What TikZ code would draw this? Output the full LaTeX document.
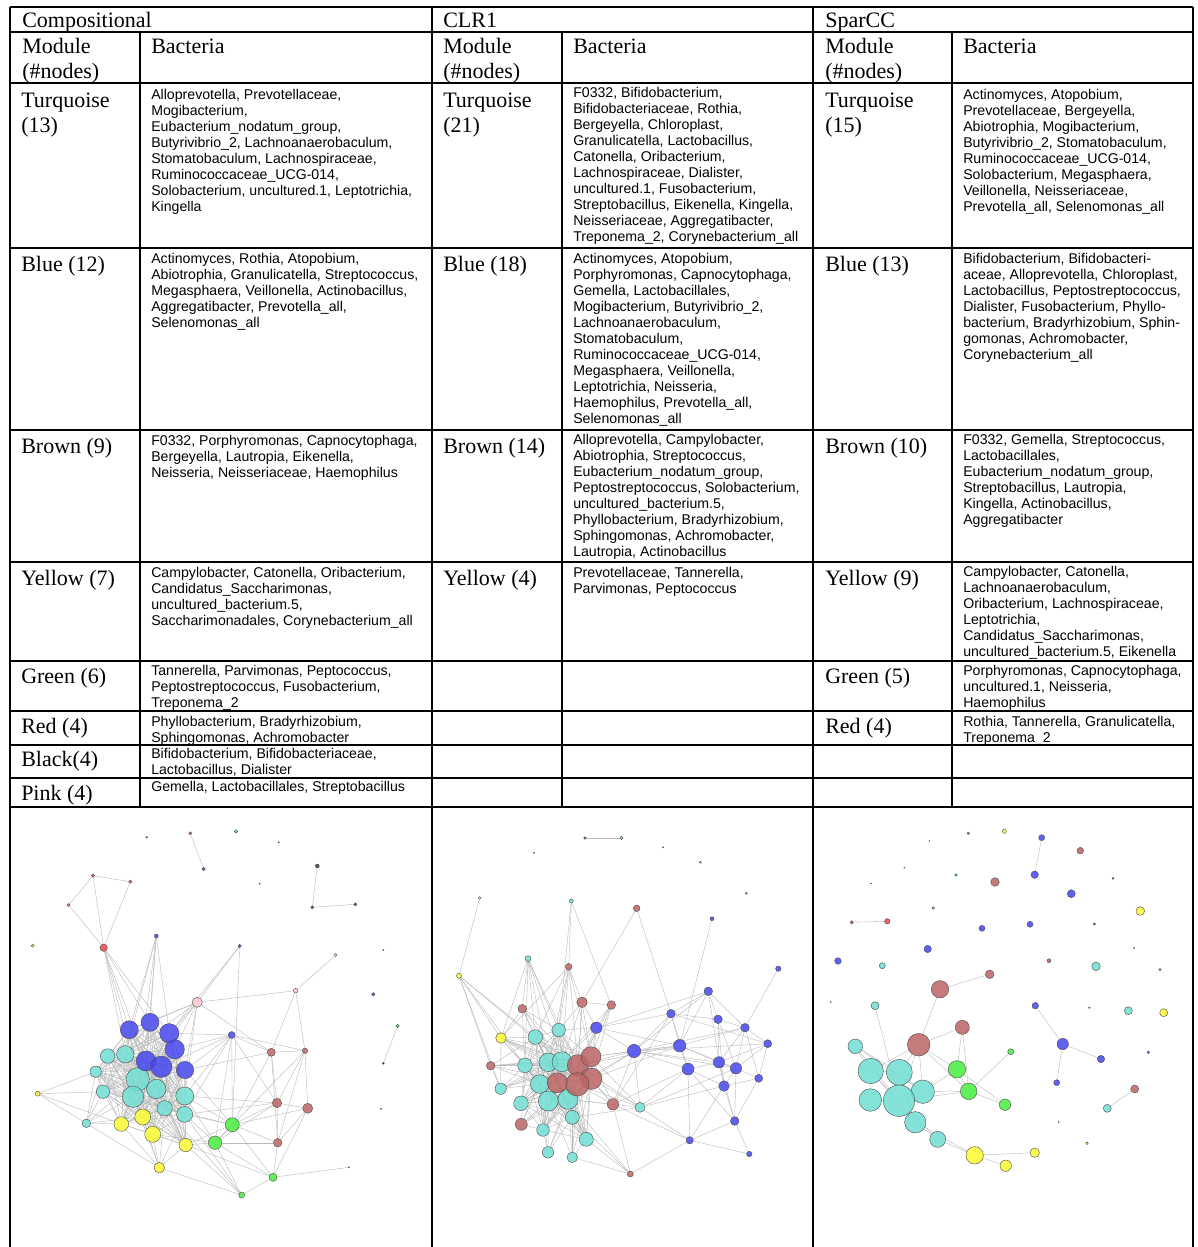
\documentclass[tikz,border=0pt]{standalone}
\usepackage{fontspec}
\setmainfont{Liberation Serif}
\setsansfont{Liberation Sans}
\pgfdeclarelayer{background}
\pgfsetlayers{background,main}
\definecolor{trq}{RGB}{112,222,210}
\definecolor{blu}{RGB}{70,70,238}
\definecolor{brn}{RGB}{188,100,100}
\definecolor{yel}{RGB}{250,250,50}
\definecolor{grn}{RGB}{70,238,60}
\definecolor{red}{RGB}{238,70,70}
\definecolor{pnk}{RGB}{255,200,205}
\definecolor{blk}{RGB}{60,60,60}
\definecolor{gry}{RGB}{110,110,110}
\tikzset{
 vtx/.style={circle,inner sep=0pt,outer sep=0pt,draw=black!70,line width=0.3pt,fill=#1,fill opacity=0.85},
 lnk/.style={draw=black!27,line width=0.3pt},
 gridline/.style={draw=black,line width=0.8pt},
 hd/.style={anchor=base west,inner sep=0pt,font=\rmfamily\fontsize{16.5}{18.8}\selectfont},
 bac/.style={anchor=base west,inner sep=0pt,font=\sffamily\fontsize{10.6}{12}\selectfont},
}
\newcommand\vx[5]{\node[vtx=#4,minimum size=#5*1.5pt] (#1) at (#2,#3) {};}
\newcommand\tl[1]{\begin{tabular}[t]{@{}l@{}}#1\end{tabular}}
\begin{document}
\begin{tikzpicture}[x=0.75pt,y=-0.75pt]
\useasboundingbox (0,0) rectangle (1197,1247);
% ---------------- table grid
\foreach \yy in {7,32,83,248,430,562,661,711,745,778,807}
  \draw[gridline] (10,\yy) -- (1193,\yy);
\foreach \xx in {10,432,813,1193}
  \draw[gridline] (\xx,7) -- (\xx,1247);
\foreach \xx in {140,562,952}
  \draw[gridline] (\xx,32) -- (\xx,807);
% ---------------- headers
\node[hd] (h1) at (22,27) {Compositional};
\node[hd] (h2) at (443,27) {CLR1};
\node[hd] (h3) at (825,27) {SparCC};
\node[hd] (m1) at (22,53) {\tl{Module\\(\#nodes)}};
\node[hd] (m2) at (443,53) {\tl{Module\\(\#nodes)}};
\node[hd] (m3) at (825,53) {\tl{Module\\(\#nodes)}};
\node[hd] (k1) at (151,53) {Bacteria};
\node[hd] (k2) at (573,53) {Bacteria};
\node[hd] (k3) at (963,53) {Bacteria};
% ---------------- Compositional
\node[hd] (c1m) at (21,107) {\tl{Turquoise\\(13)}};
\node[bac] (c1b) at (151,99) {\tl{Alloprevotella, Prevotellaceae,\\Mogibacterium,\\Eubacterium\_nodatum\_group,\\Butyrivibrio\_2, Lachnoanaerobaculum,\\Stomatobaculum, Lachnospiraceae,\\Ruminococcaceae\_UCG-014,\\Solobacterium, uncultured.1, Leptotrichia,\\Kingella}};
\node[hd] (c2m) at (21,271) {Blue (12)};
\node[bac] (c2b) at (151,263) {\tl{Actinomyces, Rothia, Atopobium,\\Abiotrophia, Granulicatella, Streptococcus,\\Megasphaera, Veillonella, Actinobacillus,\\Aggregatibacter, Prevotella\_all,\\Selenomonas\_all}};
\node[hd] (c3m) at (21,453) {Brown (9)};
\node[bac] (c3b) at (151,445) {\tl{F0332, Porphyromonas, Capnocytophaga,\\Bergeyella, Lautropia, Eikenella,\\Neisseria, Neisseriaceae, Haemophilus}};
\node[hd] (c4m) at (21,585) {Yellow (7)};
\node[bac] (c4b) at (151,577) {\tl{Campylobacter, Catonella, Oribacterium,\\Candidatus\_Saccharimonas,\\uncultured\_bacterium.5,\\Saccharimonadales, Corynebacterium\_all}};
\node[hd] (c5m) at (21,683) {Green (6)};
\node[bac] (c5b) at (151,675) {\tl{Tannerella, Parvimonas, Peptococcus,\\Peptostreptococcus, Fusobacterium,\\Treponema\_2}};
\node[hd] (c6m) at (21,733) {Red (4)};
\node[bac] (c6b) at (151,726) {\tl{Phyllobacterium, Bradyrhizobium,\\Sphingomonas, Achromobacter}};
\node[hd] (c7m) at (21,766) {Black(4)};
\node[bac] (c7b) at (151,758) {\tl{Bifidobacterium, Bifidobacteriaceae,\\Lactobacillus, Dialister}};
\node[hd] (c8m) at (21,800) {Pink (4)};
\node[bac] (c8b) at (151,791) {Gemella, Lactobacillales, Streptobacillus};
% ---------------- CLR1
\node[hd] (r1m) at (443,107) {\tl{Turquoise\\(21)}};
\node[bac] (r1b) at (573,97) {\tl{F0332, Bifidobacterium,\\Bifidobacteriaceae, Rothia,\\Bergeyella, Chloroplast,\\Granulicatella, Lactobacillus,\\Catonella, Oribacterium,\\Lachnospiraceae, Dialister,\\uncultured.1, Fusobacterium,\\Streptobacillus, Eikenella, Kingella,\\Neisseriaceae, Aggregatibacter,\\Treponema\_2, Corynebacterium\_all}};
\node[hd] (r2m) at (443,271) {Blue (18)};
\node[bac] (r2b) at (573,263) {\tl{Actinomyces, Atopobium,\\Porphyromonas, Capnocytophaga,\\Gemella, Lactobacillales,\\Mogibacterium, Butyrivibrio\_2,\\Lachnoanaerobaculum,\\Stomatobaculum,\\Ruminococcaceae\_UCG-014,\\Megasphaera, Veillonella,\\Leptotrichia, Neisseria,\\Haemophilus, Prevotella\_all,\\Selenomonas\_all}};
\node[hd] (r3m) at (443,453) {Brown (14)};
\node[bac] (r3b) at (573,444) {\tl{Alloprevotella, Campylobacter,\\Abiotrophia, Streptococcus,\\Eubacterium\_nodatum\_group,\\Peptostreptococcus, Solobacterium,\\uncultured\_bacterium.5,\\Phyllobacterium, Bradyrhizobium,\\Sphingomonas, Achromobacter,\\Lautropia, Actinobacillus}};
\node[hd] (r4m) at (443,585) {Yellow (4)};
\node[bac] (r4b) at (573,577) {\tl{Prevotellaceae, Tannerella,\\Parvimonas, Peptococcus}};
% ---------------- SparCC
\node[hd] (s1m) at (825,107) {\tl{Turquoise\\(15)}};
\node[bac] (s1b) at (963,99) {\tl{Actinomyces, Atopobium,\\Prevotellaceae, Bergeyella,\\Abiotrophia, Mogibacterium,\\Butyrivibrio\_2, Stomatobaculum,\\Ruminococcaceae\_UCG-014,\\Solobacterium, Megasphaera,\\Veillonella, Neisseriaceae,\\Prevotella\_all, Selenomonas\_all}};
\node[hd] (s2m) at (825,271) {Blue (13)};
\node[bac] (s2b) at (963,263) {\tl{Bifidobacterium, Bifidobacteri-\\aceae, Alloprevotella, Chloroplast,\\Lactobacillus, Peptostreptococcus,\\Dialister, Fusobacterium, Phyllo-\\bacterium, Bradyrhizobium, Sphin-\\gomonas, Achromobacter,\\Corynebacterium\_all}};
\node[hd] (s3m) at (825,453) {Brown (10)};
\node[bac] (s3b) at (963,444) {\tl{F0332, Gemella, Streptococcus,\\Lactobacillales,\\Eubacterium\_nodatum\_group,\\Streptobacillus, Lautropia,\\Kingella, Actinobacillus,\\Aggregatibacter}};
\node[hd] (s4m) at (825,585) {Yellow (9)};
\node[bac] (s4b) at (963,576) {\tl{Campylobacter, Catonella,\\Lachnoanaerobaculum,\\Oribacterium, Lachnospiraceae,\\Leptotrichia,\\Candidatus\_Saccharimonas,\\uncultured\_bacterium.5, Eikenella}};
\node[hd] (s5m) at (825,683) {Green (5)};
\node[bac] (s5b) at (963,675) {\tl{Porphyromonas, Capnocytophaga,\\uncultured.1, Neisseria,\\Haemophilus}};
\node[hd] (s6m) at (825,733) {Red (4)};
\node[bac] (s6b) at (963,726) {\tl{Rothia, Tannerella, Granulicatella,\\Treponema\_2}};
% ================= Network 1: Compositional
\vx{a1}{146.7}{837.3}{gry}{0.9}
\vx{a2}{190.3}{833.3}{brn}{1.5}
\vx{a3}{203.7}{869}{blu}{1.7}
\vx{a4}{236}{831.3}{trq}{1.7}
\vx{a5}{278.7}{842.3}{gry}{0.7}
\vx{a6}{317.3}{866}{blk}{2}
\vx{a7}{259.7}{883.7}{gry}{0.6}
\vx{a8}{312.3}{907.3}{blk}{1.5}
\vx{a9}{355.3}{904.3}{blk}{1.5}
\vx{a10}{93}{875.7}{red}{1.7}
\vx{a11}{130.3}{881.7}{red}{1.7}
\vx{a12}{68.7}{905}{red}{1.5}
\vx{a13}{103.7}{947.7}{red}{3.7}
\vx{a14}{32.7}{945.7}{yel}{1.5}
\vx{a15}{156.3}{936}{blu}{2}
\vx{a16}{239.7}{946}{blu}{1.7}
\vx{a17}{335.7}{955}{pnk}{1.5}
\vx{a18}{383.3}{950}{gry}{0.6}
\vx{a19}{295.7}{990.7}{pnk}{2.3}
\vx{a20}{373.3}{994.3}{blu}{1.8}
\vx{a21}{397.7}{1026}{grn}{1.7}
\vx{a22}{383.3}{1063.3}{blk}{1}
\vx{a23}{197.3}{1002.3}{pnk}{5}
\vx{a24}{231.7}{1035}{blu}{3.5}
\vx{a25}{349}{1167.3}{gry}{0.6}
\vx{a26}{381}{1109}{gry}{0.6}
\vx{a41}{107.7}{1056}{trq}{7.3}
\vx{a42}{125.3}{1054.3}{trq}{8.7}
\vx{a43}{95.7}{1071.7}{trq}{5.7}
\vx{a45}{103}{1091.7}{trq}{6.7}
\vx{a31}{129.3}{1029.7}{blu}{9}
\vx{a32}{150}{1022.3}{blu}{9}
\vx{a33}{169.3}{1033.3}{blu}{9.7}
\vx{a34}{174.7}{1049.3}{blu}{9.7}
\vx{a44}{137.7}{1079.3}{trq}{11.7}
\vx{a35}{146}{1061}{blu}{10}
\vx{a36}{161.3}{1066.7}{blu}{10.7}
\vx{a37}{185}{1070}{blu}{8.7}
\vx{a46}{133}{1096.7}{trq}{10.7}
\vx{a47}{156.3}{1089}{trq}{9.7}
\vx{a48}{184.7}{1096}{trq}{9}
\vx{a49}{164.7}{1108.3}{trq}{7.7}
\vx{a50}{184.7}{1114.3}{trq}{8}
\vx{a51}{86.3}{1123.3}{trq}{4.3}
\vx{a61}{37.7}{1093.7}{yel}{2.5}
\vx{a62}{121.3}{1124}{yel}{7.3}
\vx{a63}{142.7}{1117}{yel}{8}
\vx{a64}{152.7}{1134.3}{yel}{8}
\vx{a65}{185.7}{1145}{yel}{6.7}
\vx{a66}{159.3}{1167.7}{yel}{5.3}
\vx{a71}{232.3}{1124.7}{grn}{7}
\vx{a72}{215}{1142.7}{grn}{6.7}
\vx{a73}{273}{1177.3}{grn}{4}
\vx{a74}{241.7}{1195}{grn}{3}
\vx{a81}{271.3}{1052.3}{brn}{4}
\vx{a82}{305}{1050.7}{brn}{2.7}
\vx{a83}{277}{1103}{brn}{4.7}
\vx{a84}{307.7}{1108.3}{brn}{5}
\vx{a85}{277.7}{1142.7}{brn}{4.3}
% ================= Network 2: CLR1
\vx{b1}{585}{838}{gry}{1.3}
\vx{b2}{621.3}{838}{trq}{1.7}
\vx{b3}{534}{852.7}{gry}{0.6}
\vx{b4}{663}{847.3}{gry}{0.6}
\vx{b5}{700.3}{862.3}{yel}{1}
\vx{b6}{746.3}{893.3}{trq}{1}
\vx{b7}{479.7}{898}{yel}{1.5}
\vx{b8}{571.3}{901}{trq}{2}
\vx{b9}{636.7}{908.3}{brn}{3.3}
\vx{b10}{712}{918.7}{blu}{2}
\vx{b11}{459}{975.7}{yel}{2.5}
\vx{b12}{528}{958.7}{trq}{3}
\vx{b13}{568.7}{966.7}{brn}{3.3}
\vx{b14}{778.3}{968.7}{blu}{2.7}
\vx{b15}{582}{1002.3}{brn}{5.3}
\vx{b16}{611.3}{1005}{brn}{4.3}
\vx{b17}{522.3}{1008.7}{brn}{4.3}
\vx{b21}{708.3}{991.3}{blu}{4.3}
\vx{b22}{671}{1013.7}{blu}{4.3}
\vx{b23}{718}{1019.3}{blu}{4.3}
\vx{b24}{745}{1027.7}{blu}{4.3}
\vx{b25}{767.7}{1043.7}{blu}{4}
\vx{b26}{596.3}{1027.7}{blu}{5.7}
\vx{b27}{634}{1051}{blu}{6.7}
\vx{b28}{679.7}{1045.7}{blu}{6.3}
\vx{b29}{688}{1069}{blu}{6}
\vx{b30}{719}{1062.3}{blu}{5.7}
\vx{b31}{736}{1068.3}{blu}{5.7}
\vx{b32}{758.7}{1078.3}{blu}{4}
\vx{b33}{724}{1086}{blu}{5.3}
\vx{b34}{734.7}{1121}{blu}{4.3}
\vx{b35}{689.7}{1140.3}{blu}{3.7}
\vx{b36}{749.3}{1154}{blu}{2.7}
\vx{b41}{558.7}{1030}{trq}{6.7}
\vx{b42}{535.3}{1037}{trq}{7.3}
\vx{b43}{501}{1038}{yel}{5.3}
\vx{b44}{490.7}{1065.7}{brn}{4.3}
\vx{b45}{525}{1065.3}{trq}{7.3}
\vx{b46}{548.3}{1062.3}{trq}{9.3}
\vx{b47}{562}{1061.7}{trq}{10}
\vx{b48}{539.7}{1084}{trq}{9.3}
\vx{b49}{500.7}{1088.7}{trq}{5.7}
\vx{b50}{521}{1103.3}{trq}{7.3}
\vx{b51}{548.3}{1101}{trq}{10}
\vx{b52}{568}{1099.3}{trq}{10}
\vx{b53}{613}{1104.3}{brn}{5.7}
\vx{b54}{640}{1107.3}{trq}{5}
\vx{b55}{521.3}{1124.3}{brn}{6}
\vx{b56}{572.3}{1117.3}{trq}{7}
\vx{b57}{543}{1130}{trq}{6.3}
\vx{b58}{586.3}{1139.3}{trq}{7}
\vx{b59}{548}{1152.3}{trq}{5.7}
\vx{b60}{572.3}{1157.3}{trq}{5.3}
\vx{b61}{630.3}{1174}{brn}{3}
\vx{b62}{578}{1065.3}{brn}{10.7}
\vx{b63}{591}{1056.7}{brn}{10}
\vx{b64}{591.3}{1078.7}{brn}{10.7}
\vx{b65}{577.3}{1084.3}{brn}{11.7}
\vx{b66}{557.3}{1082.7}{brn}{10}
% ================= Network 3: SparCC
\vx{s1}{968.3}{833.3}{brn}{1.3}
\vx{s2}{1004.3}{831.3}{yel}{2}
\vx{s3}{1041.7}{837.7}{blu}{3}
\vx{s4}{929.3}{841}{gry}{0.5}
\vx{s5}{1080.3}{850.7}{brn}{3.3}
\vx{s6}{1034.7}{874.7}{blu}{3.7}
\vx{s7}{904.3}{867.7}{gry}{0.5}
\vx{s8}{956}{875}{grn}{1.3}
\vx{s9}{995}{882}{brn}{4.3}
\vx{s10}{1113}{878.3}{blu}{1}
\vx{s11}{871}{883.7}{gry}{0.5}
\vx{s12}{1071.3}{893.7}{blu}{4}
\vx{s13}{1140.3}{911}{yel}{4.3}
\vx{s14}{933.3}{908}{trq}{1.3}
\vx{s15}{851.7}{922.3}{red}{1.7}
\vx{s16}{887.3}{921.3}{red}{2.7}
\vx{s17}{982}{928.3}{blu}{3}
\vx{s18}{1030}{924.3}{blu}{3}
\vx{s19}{1094.3}{924}{brn}{1.2}
\vx{s20}{927.7}{949}{blu}{3.7}
\vx{s21}{838}{961}{blu}{3.3}
\vx{s22}{882.3}{965.7}{trq}{3}
\vx{s23}{1049}{960.7}{brn}{2}
\vx{s24}{1096}{966.3}{trq}{4.3}
\vx{s25}{1134}{948}{gry}{0.5}
\vx{s26}{1160}{969.7}{trq}{1.2}
\vx{s27}{989.7}{974.3}{brn}{4.3}
\vx{s28}{940}{989.3}{brn}{8.7}
\vx{s29}{830.7}{1002}{gry}{0.5}
\vx{s30}{875}{1005.7}{trq}{4}
\vx{s31}{1035.3}{1005.7}{blu}{3.3}
\vx{s32}{1089.3}{1007.7}{yel}{0.8}
\vx{s33}{1128.3}{1010.7}{trq}{4}
\vx{s34}{1163.7}{1012.7}{yel}{4}
\vx{s35}{962.3}{1027.3}{brn}{7}
\vx{s36}{855.3}{1046.3}{trq}{7.3}
\vx{s37}{918.7}{1044.7}{brn}{11.3}
\vx{s38}{1010.7}{1051.7}{grn}{3}
\vx{s39}{1062.7}{1044}{blu}{5.7}
\vx{s40}{1148.3}{1052.3}{blu}{1.3}
\vx{s41}{1101}{1059}{blu}{3.7}
\vx{s42}{870.7}{1071}{trq}{12.7}
\vx{s43}{899.3}{1072.3}{trq}{13}
\vx{s44}{957}{1069.3}{grn}{8.7}
\vx{s45}{1056.7}{1082.7}{blu}{3}
\vx{s46}{1134.7}{1089}{brn}{4}
\vx{s47}{922.7}{1091.7}{trq}{11.7}
\vx{s48}{968.7}{1091.3}{grn}{8.3}
\vx{s49}{870.3}{1100}{trq}{11.3}
\vx{s50}{899}{1100.7}{trq}{15.7}
\vx{s51}{1005}{1104.7}{grn}{5.7}
\vx{s52}{1107.3}{1108.3}{trq}{4}
\vx{s53}{915.3}{1122.3}{trq}{10.7}
\vx{s54}{1058.7}{1122}{gry}{0.5}
\vx{s55}{937.7}{1139.3}{trq}{8}
\vx{s56}{1087}{1143.3}{yel}{1.3}
\vx{s57}{974.7}{1155.3}{yel}{8.7}
\vx{s58}{1034.7}{1152.7}{yel}{4.7}
\vx{s59}{1005.7}{1165.7}{yel}{5.7}
% ================= links
\begin{pgfonlayer}{background}
\fill[white] (0,0) rectangle (1197,1247);
% Compositional
\foreach \u/\v in {a2/a3,a6/a8,a8/a9,a10/a11,a10/a12,a12/a13,a10/a13,a11/a13,a21/a22,a17/a19,a73/a25,
 a13/a31,a13/a32,a13/a42,a13/a35,a13/a44,a13/a33,
 a15/a31,a15/a32,a15/a33,a15/a44,a15/a42,a15/a35,
 a16/a23,a16/a33,a16/a71,
 a19/a23,a19/a81,a19/a82,
 a23/a81,a23/a32,a23/a33,a23/a34,a23/a37,a23/a44,a23/a42,a23/a31,a23/a48,
 a24/a33,a24/a34,a24/a37,a24/a48,a24/a71,a24/a72,a24/a81,a24/a82,a24/a83,a24/a36,a24/a50,
 a81/a82,a81/a83,a81/a85,a82/a83,a82/a84,a82/a85,a83/a84,a83/a85,a84/a85,a84/a71,a83/a71,a83/a72,
 a85/a72,a85/a73,a85/a71,a84/a73,a81/a71,a82/a72,a81/a37,a83/a48,a83/a50,
 a71/a72,a71/a48,a71/a50,a71/a37,a72/a50,a72/a65,a72/a48,a72/a74,a73/a74,a73/a72,a73/a65,
 a74/a66,a74/a65,a74/a50,a71/a65,a73/a71,a74/a49,a72/a64,a71/a49,
 a61/a45,a61/a51,a61/a62,a61/a43,
 a51/a62,a51/a41,a51/a43,a51/a45,a51/a46,a51/a63,a51/a66,a51/a44,
 a66/a62,a66/a63,a66/a64,a66/a65,a66/a49,a66/a50,a66/a46}
 \draw[lnk] (\u) -- (\v);
\foreach \p [count=\i] in {a31,a32,a33,a34,a35,a36,a37,a41,a42,a43,a44,a45,a46,a47,a48,a49,a50,a62,a63,a64,a65}
 \foreach \q [count=\j] in {a31,a32,a33,a34,a35,a36,a37,a41,a42,a43,a44,a45,a46,a47,a48,a49,a50,a62,a63,a64,a65}
 {\ifnum\i<\j\relax \draw[lnk] (\p) -- (\q);\fi}
% CLR1
\foreach \u/\v in {b1/b2,b7/b11,b8/b13,b8/b16,b8/b41,b9/b15,b9/b22,b10/b28,b14/b24,
 b11/b43,b11/b44,b11/b49,b11/b45,b11/b42,b11/b47,
 b43/b42,b43/b45,b43/b46,b43/b47,b43/b48,b43/b62,b43/b63,b43/b64,b43/b65,b43/b49,b43/b17,b43/b12,b43/b13,
 b44/b42,b44/b45,b44/b46,b44/b48,b44/b47,b44/b49,b44/b62,b44/b63,b44/b65,
 b49/b45,b49/b46,b49/b47,b49/b48,b49/b62,b49/b63,
 b55/b45,b55/b46,b55/b48,b55/b51,b55/b52,b55/b65,b55/b57,
 b59/b48,b59/b51,b59/b52,b59/b56,b59/b57,b59/b65,
 b60/b51,b60/b52,b60/b56,b60/b58,b60/b65,b60/b64,
 b54/b62,b54/b63,b54/b64,b54/b65,b54/b52,b54/b56,b54/b27,b54/b29,b54/b31,b54/b33,b54/b35,
 b53/b62,b53/b63,b53/b64,b53/b65,b53/b27,b53/b22,b53/b29,b53/b35,b53/b52,
 b17/b42,b17/b45,b17/b46,b17/b47,b17/b41,b17/b62,
 b12/b41,b12/b42,b12/b45,b12/b46,b12/b47,b12/b17,b12/b62,
 b13/b41,b13/b46,b13/b47,b13/b62,b13/b63,b13/b15,b13/b42,
 b15/b41,b15/b47,b15/b62,b15/b63,b15/b26,b15/b16,b15/b65,
 b16/b26,b16/b63,b16/b62,b16/b64,b16/b47,
 b26/b62,b26/b63,b26/b64,b26/b47,b26/b41,b26/b65,b26/b21,b26/b22,b26/b27,b26/b28,
 b27/b62,b27/b63,b27/b64,b27/b65,b27/b22,b27/b21,b27/b28,b27/b29,b27/b30,b27/b31,b27/b24,b27/b25,
 b28/b63,b28/b64,b28/b62,
 b61/b35,b61/b58,b61/b56,b61/b53,b61/b60,b61/b52,
 b21/b22,b21/b23,b21/b24,b21/b28,b21/b30,b22/b23,b22/b28,b22/b29,b23/b24,b23/b30,b23/b31,b23/b33,
 b24/b25,b24/b30,b24/b31,b24/b32,b25/b30,b25/b31,b25/b32,b28/b29,b28/b30,b28/b31,b29/b30,b29/b33,
 b29/b35,b30/b31,b30/b33,b31/b32,b31/b33,b31/b34,b32/b33,b32/b34,b33/b34,b33/b35,b34/b35,b34/b36,
 b35/b36,b30/b34,b29/b34,b28/b24,b22/b25}
 \draw[lnk] (\u) -- (\v);
\foreach \p [count=\i] in {b41,b42,b45,b46,b47,b48,b50,b51,b52,b56,b57,b58,b62,b63,b64,b65,b66}
 \foreach \q [count=\j] in {b41,b42,b45,b46,b47,b48,b50,b51,b52,b56,b57,b58,b62,b63,b64,b65,b66}
 {\ifnum\i<\j\relax \draw[lnk] (\p) -- (\q);\fi}
% SparCC
\foreach \u/\v in {s3/s6,s15/s16,s28/s27,s28/s37,s37/s35,s37/s44,s35/s44,s35/s48,s37/s43,s37/s42,
 s37/s50,s37/s47,s37/s48,s30/s50,s36/s42,s36/s43,s36/s47,s42/s50,s42/s49,s42/s43,s43/s53,s43/s47,
 s49/s50,s50/s53,s50/s47,s47/s44,s47/s48,s50/s48,s50/s55,s53/s55,s55/s57,s53/s57,s57/s58,s57/s59,
 s44/s48,s44/s51,s48/s51,s48/s38,s31/s39,s39/s41,s39/s45,s46/s52,s42/s53,s36/s50}
 \draw[lnk] (\u) -- (\v);
\end{pgfonlayer}
\end{tikzpicture}
\end{document}
